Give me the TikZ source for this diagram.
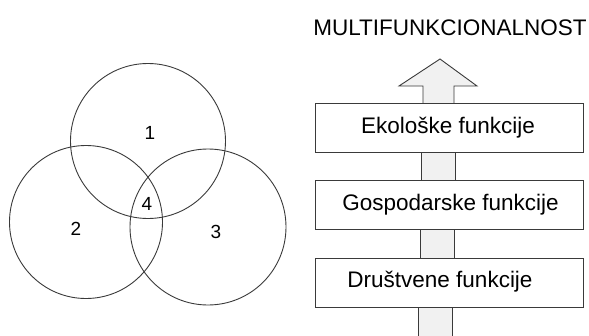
\documentclass[tikz,border=0pt]{standalone}
\usepackage{fontspec}
\setmainfont{Liberation Sans}
\definecolor{linegray}{HTML}{3A3A3A}
\definecolor{shaftfill}{HTML}{F1F1F1}
\begin{document}
\begin{tikzpicture}[x=1pt,y=-1pt,
  ring/.style={circle,draw=linegray,line width=0.9pt,minimum size=#1,inner sep=0pt},
  num/.style={font=\fontsize{19}{22}\selectfont,inner sep=0pt},
  level/.style={draw=linegray,line width=0.9pt,fill=white,minimum width=268pt,
    minimum height=49pt,inner sep=0pt},
  label/.style={font=\fontsize{22.5}{26}\selectfont,inner sep=0pt},
  shaft/.style={draw=linegray,line width=0.9pt,fill=shaftfill}]
\useasboundingbox (0,0) rectangle (589,335);

% three overlapping circles
\node[ring=155pt] (c1) at (148,141) {};
\node[ring=153pt] (c2) at (86,222) {};
\node[ring=156pt] (c3) at (208,227) {};
\node[num] (n1) at (150,133) {1};
\node[num] (n2) at (76,229) {2};
\node[num] (n3) at (216,232) {3};
\node[num] (n4) at (147,204) {4};

% title
\node[label] (title) at (450,28) {MULTIFUNKCIONALNOST};

% stacked function levels
\coordinate (b1c) at (449,127.5);
\coordinate (b2c) at (449,204.5);
\coordinate (b3c) at (449,283);
\coordinate (floor) at (449,336);

% gray links between the levels (drawn first, boxes cover their ends)
\path[shaft] ([xshift=-28pt]b1c) rectangle ([xshift=6pt]b2c);
\path[shaft] ([xshift=-29pt]b2c) rectangle ([xshift=5pt]b3c);
\path[shaft] ([xshift=-31pt]b3c) rectangle ([xshift=3pt]floor);

% upward arrow on top of the first level
\path[shaft] ([xshift=-26pt]b1c) -- ([xshift=-26pt,yshift=41.5pt]b1c)
  -- ([xshift=-50pt,yshift=41.5pt]b1c) -- ([xshift=-9pt,yshift=68.5pt]b1c)
  -- ([xshift=28pt,yshift=41.5pt]b1c) -- ([xshift=5pt,yshift=41.5pt]b1c)
  -- ([xshift=5pt]b1c) -- cycle;

\node[level] (b1) at (b1c) {};
\node[level] (b2) at (b2c) {};
\node[level] (b3) at (b3c) {};
\node[label] (t1) at (448,127.5) {Ekološke funkcije};
\node[label] (t2) at (450.5,205) {Gospodarske funkcije};
\node[label] (t3) at (440,282) {Društvene funkcije};
\end{tikzpicture}
\end{document}
